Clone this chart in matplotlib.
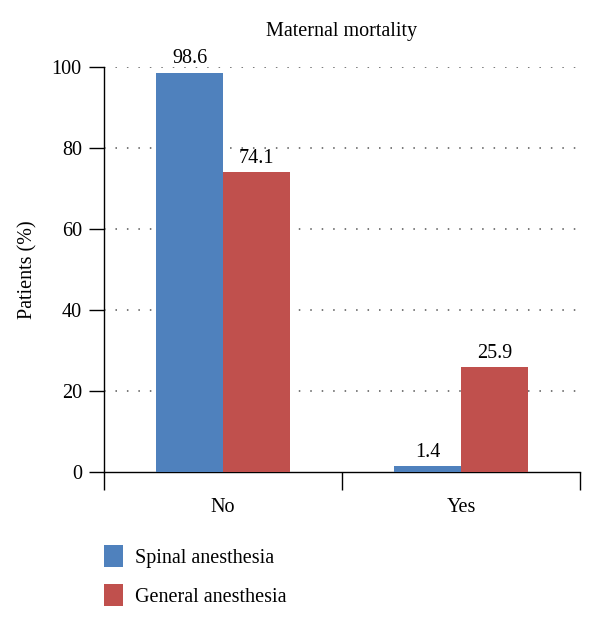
import numpy as np
import matplotlib.pyplot as plt

categories = ["No", "Yes"]
spinal = [98.6, 1.4]
general = [74.1, 25.9]
series_names = ["Spinal anesthesia", "General anesthesia"]
yticks = [0, 20, 40, 60, 80, 100]

BLUE = "#4F81BD"
RED = "#C0504D"
FS = 14.5

plt.rcParams['font.family'] = ['Liberation Serif', 'DejaVu Serif']

fig = plt.figure(figsize=(6, 6.2), dpi=100)
ax = fig.add_axes([0.1733, 0.2387, 0.7934, 0.6533])

x = np.arange(len(categories))
w = 0.28
b1 = ax.bar(x - w / 2, spinal, w, color=BLUE, label=series_names[0], zorder=3)
b2 = ax.bar(x + w / 2, general, w, color=RED, label=series_names[1], zorder=3)

for bars, vals in ((b1, spinal), (b2, general)):
    for r, v in zip(bars, vals):
        ax.annotate("{:.1f}".format(v), (r.get_x() + r.get_width() / 2, v),
                    xytext=(0, 3), textcoords="offset points",
                    ha="center", va="bottom", fontsize=FS)

ax.set_xlim(-0.5, 1.5)
ax.set_ylim(0, 100)
ax.set_yticks(yticks)
ax.tick_params(axis='y', length=11, width=1, labelsize=FS, pad=5)

# boundaries as major ticks, names as minor ticks
ax.set_xticks([-0.5, 0.5, 1.5])
ax.set_xticklabels([])
ax.set_xticks(x, minor=True)
ax.set_xticklabels(categories, minor=True, fontsize=FS)
ax.tick_params(axis='x', which='major', length=13, width=1)
ax.tick_params(axis='x', which='minor', length=0, pad=19)

for y in yticks[1:]:
    ax.axhline(y, color="#555555", lw=1.1, ls=(0, (1, 6.5)), zorder=1)

for s in ("top", "right"):
    ax.spines[s].set_visible(False)
ax.spines["left"].set_linewidth(1)
ax.spines["bottom"].set_linewidth(1)

ax.set_ylabel("Patients (%)", fontsize=FS, labelpad=10)
ax.set_title("Maternal mortality", fontsize=FS, pad=22)

fig.legend(handles=[b1, b2], loc="upper left", bbox_to_anchor=(0.143, 0.15),
           frameon=False, fontsize=FS, handlelength=0.95, handleheight=1.3,
           handletextpad=0.6, labelspacing=0.8)

fig.savefig("out.png", dpi=100)
